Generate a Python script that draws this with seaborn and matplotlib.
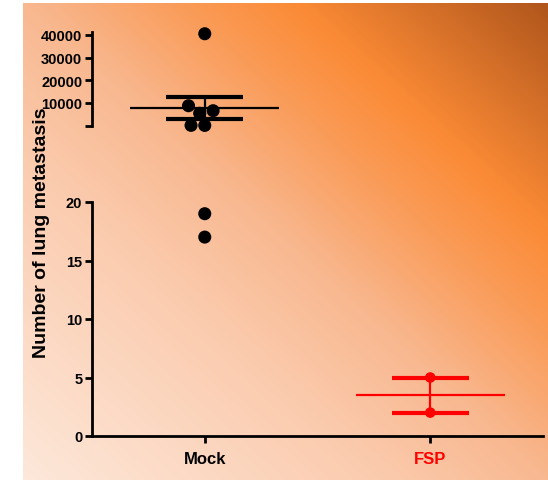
import numpy as np
import pandas as pd
import matplotlib
matplotlib.use('Agg')
import matplotlib.pyplot as plt
from matplotlib.colors import LinearSegmentedColormap
import seaborn as sns

# data (broken y axis: values above 20 go in the top panel)
groups = ['Mock', 'FSP']
group_colors = ['black', 'red']
mock_values = [40500, 8800, 6600, 5460, 150, 120, 19, 17]
fsp_values = [5, 2]
upper_ticks = [10000, 20000, 30000, 40000]
lower_ticks = [0, 5, 10, 15, 20]
axis_break = 20

df = pd.DataFrame({
    'group': ['Mock'] * len(mock_values) + ['FSP'] * len(fsp_values),
    'metastasis': mock_values + fsp_values,
})
stats = df.groupby('group')['metastasis'].agg(['mean', 'sem'])
pal = dict(zip(groups, group_colors))

sns.set_style('ticks')
plt.rcParams['font.family'] = ['Liberation Sans', 'DejaVu Sans']
plt.rcParams['font.weight'] = 'bold'
for k in ['text.color', 'axes.labelcolor', 'xtick.color', 'ytick.color', 'axes.edgecolor']:
    plt.rcParams[k] = 'black'

fig = plt.figure(figsize=(5.48, 4.81), dpi=100)

# orange diagonal gradient background
W, H = 525, 477
xx, yy = np.meshgrid(np.linspace(0, 1, W), np.linspace(0, 1, H))
grad = 0.5 * xx + 0.5 * (1 - yy)
cmap = LinearSegmentedColormap.from_list('bg', [
    (0.0, '#fde8da'), (0.34, '#fbcbae'), (0.5, '#f8b890'),
    (0.66, '#fa9a55'), (0.76, '#fb8b36'), (1.0, '#b0561c')])
bg = fig.add_axes([23 / 548, 0, W / 548, H / 481])
bg.imshow(grad, cmap=cmap, aspect='auto', vmin=0, vmax=1)
bg.axis('off')

ax_lo = fig.add_axes([92 / 548, 1 - 437 / 481, 451 / 548, 234 / 481])
ax_hi = fig.add_axes([92 / 548, 1 - 126.7 / 481, 451 / 548, 94 / 481])

lo = df[df.metastasis <= axis_break]
hi = df[df.metastasis > axis_break]
for g, size in zip(groups, [9.4, 7.6]):
    sub = lo[lo.group == g]
    if len(sub):
        sns.swarmplot(data=sub, x='group', y='metastasis', order=groups, hue='group',
                      palette=pal, size=size, legend=False, ax=ax_lo, zorder=3, clip_on=False)
sns.swarmplot(data=hi, x='group', y='metastasis', order=groups, hue='group',
              palette=pal, size=9.4, legend=False, ax=ax_hi, zorder=3, clip_on=False)

# mean and SEM
for i, g in enumerate(groups):
    m, se = stats.loc[g, 'mean'], stats.loc[g, 'sem']
    ax = ax_hi if m > axis_break else ax_lo
    c = pal[g]
    ax.hlines(m, i - 0.33, i + 0.33, color=c, lw=1.6, zorder=2)
    ax.hlines([m - se, m + se], i - 0.17, i + 0.17, color=c, lw=3, zorder=2)
    ax.vlines(i, m - se, m + se, color=c, lw=1.6, zorder=2)

for ax in (ax_lo, ax_hi):
    ax.set_facecolor('none')
    ax.set_xlim(-0.5, 1.5)
    ax.set_xlabel('')
    ax.set_ylabel('')
    sns.despine(ax=ax)
    ax.spines['left'].set_linewidth(2)
    ax.spines['bottom'].set_linewidth(2)
    ax.tick_params(axis='both', direction='out', length=5, width=2, labelsize=10.5, pad=2)

ax_lo.set_ylim(0, 20)
ax_lo.set_yticks(lower_ticks)
ax_lo.set_xticks(range(len(groups)))
ax_lo.set_xticklabels(groups, fontsize=12, fontweight='bold')
ax_lo.tick_params(axis='x', pad=6)
for lab, c in zip(ax_lo.get_xticklabels(), group_colors):
    lab.set_color(c)
for lab in ax_lo.get_yticklabels():
    lab.set_fontweight('bold')

ax_hi.set_ylim(0, 41400)
ax_hi.set_yticks([0] + upper_ticks)
ax_hi.set_yticklabels([''] + [str(t) for t in upper_ticks], fontweight='bold')
ax_hi.spines['bottom'].set_visible(False)
ax_hi.set_xticks([])

fig.text(42 / 548, 1 - 233 / 481, 'Number of lung metastasis', rotation=90,
         ha='center', va='center', fontsize=14, fontweight='bold')

fig.savefig('out.png', dpi=100)
